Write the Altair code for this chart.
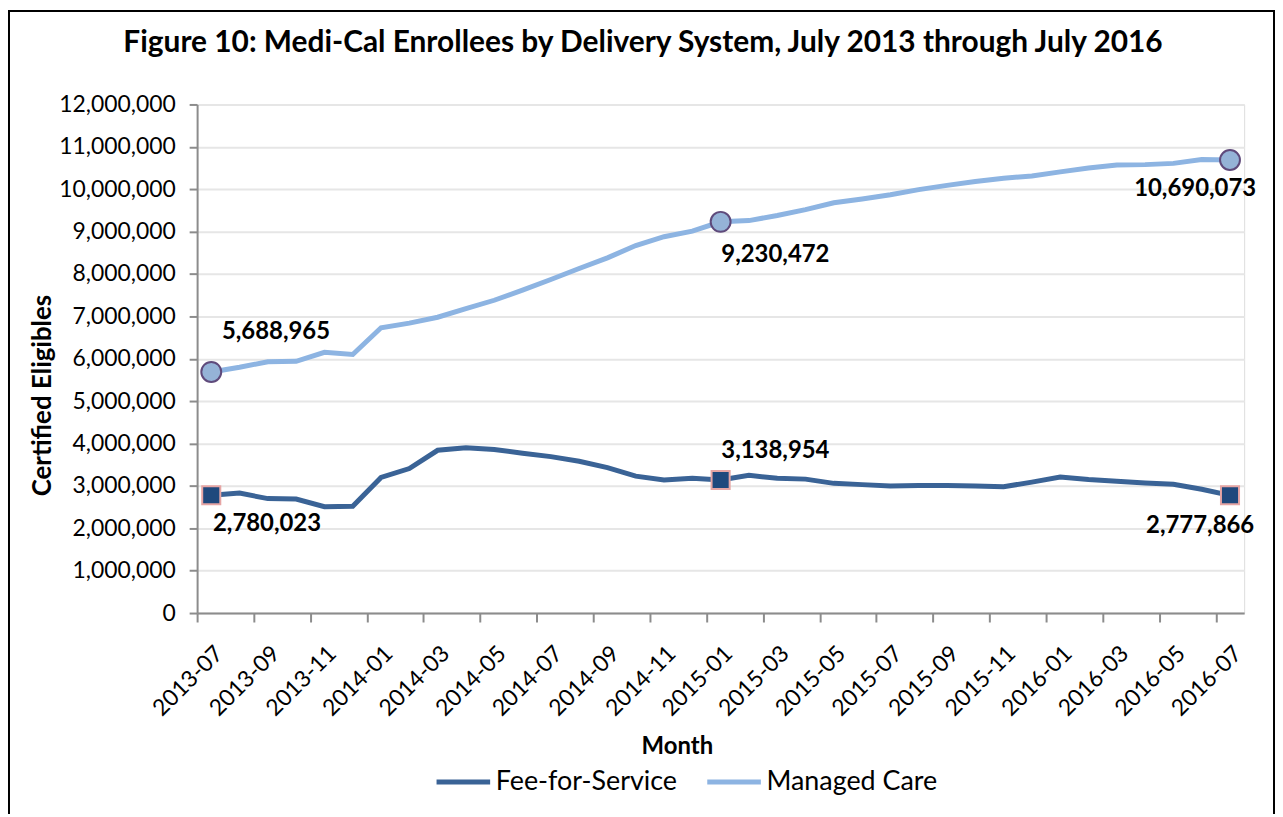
import json
import altair as alt
import pandas as pd

months = [
    "2013-07", "2013-08", "2013-09", "2013-10", "2013-11", "2013-12",
    "2014-01", "2014-02", "2014-03", "2014-04", "2014-05", "2014-06",
    "2014-07", "2014-08", "2014-09", "2014-10", "2014-11", "2014-12",
    "2015-01", "2015-02", "2015-03", "2015-04", "2015-05", "2015-06",
    "2015-07", "2015-08", "2015-09", "2015-10", "2015-11", "2015-12",
    "2016-01", "2016-02", "2016-03", "2016-04", "2016-05", "2016-06",
    "2016-07",
]

fee_for_service = [
    2780023, 2830000, 2700000, 2690000, 2510000, 2520000,
    3200000, 3410000, 3840000, 3900000, 3860000, 3770000,
    3690000, 3580000, 3430000, 3230000, 3140000, 3180000,
    3138954, 3250000, 3180000, 3160000, 3060000, 3030000,
    3000000, 3010000, 3010000, 3000000, 2980000, 3090000,
    3210000, 3150000, 3110000, 3070000, 3040000, 2920000,
    2777866,
]

managed_care = [
    5688965, 5800000, 5930000, 5940000, 6150000, 6100000,
    6730000, 6840000, 6980000, 7180000, 7380000, 7620000,
    7870000, 8130000, 8380000, 8670000, 8880000, 9010000,
    9230472, 9260000, 9380000, 9520000, 9680000, 9770000,
    9870000, 9990000, 10090000, 10180000, 10260000, 10310000,
    10410000, 10500000, 10570000, 10580000, 10610000, 10700000,
    10690073,
]

series_names = ["Fee-for-Service", "Managed Care"]
series_colors = ["#3A6396", "#8DB4E2"]
marked_months = ["2013-07", "2015-01", "2016-07"]
tick_months = months[::2]
y_ticks = list(range(0, 12000001, 1000000))

FONT = "Lato"
W, H = 1052, 511
STEP = W / len(months)

df = pd.DataFrame({
    "month": months * 2,
    "series": [series_names[0]] * len(months) + [series_names[1]] * len(months),
    "value": fee_for_service + managed_care,
})
df["label"] = df["value"].map(lambda v: f"{v:,}")

x_enc = alt.X(
    "month:O",
    sort=months,
    scale=alt.Scale(type="point", padding=0.5),
    axis=alt.Axis(
        values=tick_months,
        labelAngle=-45,
        labelFont=FONT,
        labelFontSize=23,
        labelColor="#000000",
        labelPadding=20,
        tickOffset=-STEP / 2,
        labelOffset=STEP / 2,
        tickSize=9,
        tickWidth=2,
        tickColor="#8C8C8C",
        domainColor="#8C8C8C",
        domainWidth=2,
        grid=False,
        title="Month",
        titleFont=FONT,
        titleFontSize=24,
        titleFontWeight="bold",
        titleColor="#000000",
        titleX=482,
        titleY=134,
        titleBaseline="middle",
        titleAlign="center",
    ),
)
y_enc = alt.Y(
    "value:Q",
    scale=alt.Scale(domain=[0, 12000000], nice=False),
    axis=alt.Axis(
        values=y_ticks,
        format=",.0f",
        labelFont=FONT,
        labelFontSize=23,
        labelColor="#000000",
        labelPadding=14,
        tickSize=8,
        tickWidth=2,
        tickColor="#8C8C8C",
        domainColor="#8C8C8C",
        domainWidth=2,
        gridColor="#E6E6E6",
        gridWidth=2,
        title="Certified Eligibles",
        titleFont=FONT,
        titleFontSize=26,
        titleFontWeight="bold",
        titleColor="#000000",
        titleX=-155,
        titleY=292,
        titleAngle=-90,
        titleBaseline="middle",
        titleAlign="center",
    ),
)

base = alt.Chart(df)

lines = base.mark_line(strokeWidth=5).encode(
    x=x_enc,
    y=y_enc,
    color=alt.Color(
        "series:N",
        scale=alt.Scale(domain=series_names, range=series_colors),
        legend=alt.Legend(
            title=None,
            orient="none",
            direction="horizontal",
            legendX=238,
            legendY=651,
            symbolType="stroke",
            symbolSize=2900,
            symbolStrokeWidth=5,
            labelFont=FONT,
            labelFontSize=27,
            labelColor="#000000",
            labelOffset=3,
            columnPadding=19,
            labelLimit=400,
        ),
    ),
)

marked_js = json.dumps(marked_months)


def marked_filter(series):
    return f"datum.series == '{series}' && indexof({marked_js}, datum.month) >= 0"


mc_points = base.transform_filter(marked_filter(series_names[1])).mark_point(
    shape="circle", filled=True, size=400, fill="#95B3D7", stroke="#5F4A7B", strokeWidth=2, opacity=1
).encode(x=x_enc, y=y_enc)

ffs_points = base.transform_filter(marked_filter(series_names[0])).mark_point(
    shape="square", filled=True, size=330, fill="#1F497D", stroke="#E6A5A4", strokeWidth=2, opacity=1
).encode(x=x_enc, y=y_enc)


def annot(series, month, dx, dy):
    return base.transform_filter(
        f"datum.series == '{series}' && datum.month == '{month}'"
    ).mark_text(font=FONT, fontSize=24, fontWeight="bold", color="#000000", dx=dx, dy=dy).encode(
        x=x_enc, y=y_enc, text="label:N"
    )


labels = [
    annot(series_names[1], "2013-07", 65, -40),
    annot(series_names[1], "2015-01", 55, 33),
    annot(series_names[1], "2016-07", -35, 29),
    annot(series_names[0], "2013-07", 56, 29),
    annot(series_names[0], "2015-01", 55, -29),
    annot(series_names[0], "2016-07", -30, 31),
]

frame = alt.Chart(pd.DataFrame({"k": [0]})).mark_rect(
    fill=None, filled=False, stroke="#000000", strokeWidth=2
).encode(
    x=alt.value(-189), x2=alt.value(1082), y=alt.value(-94), y2=alt.value(730)
)

chart = alt.layer(frame, lines, mc_points, ffs_points, *labels).properties(
    width=W,
    height=H,
    autosize=alt.AutoSizeParams(type="none"),
    padding={"left": 190, "top": 95, "right": 31, "bottom": 200},
    title=alt.TitleParams(
        "Figure 10: Medi-Cal Enrollees by Delivery System, July 2013 through July 2016",
        font=FONT,
        fontSize=30,
        fontWeight="bold",
        color="#000000",
        anchor="middle",
        baseline="middle",
        dx=-78,
        dy=0,
        offset=-63,
    ),
).configure_view(stroke=None).configure(background="#FFFFFF")

chart.save("out.html", embed_options={"renderer": "svg", "actions": False})
